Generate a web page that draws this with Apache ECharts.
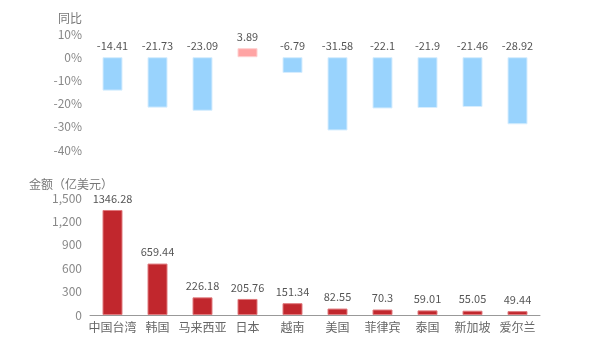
<!DOCTYPE html>
<html>
<head>
<meta charset="utf-8">
<script src="https://cdn.jsdelivr.net/npm/echarts@6/dist/echarts.min.js"></script>
<style>
  html, body { margin: 0; padding: 0; background: #fff; }
  #chart { width: 600px; height: 350px; }
</style>
</head>
<body>
<div id="chart"></div>
<script>
  // 国家/地区
  const regions = ['中国台湾', '韩国', '马来西亚', '日本', '越南', '美国', '菲律宾', '泰国', '新加坡', '爱尔兰'];
  // 同比 (%)
  const yoyValues = [-14.41, -21.73, -23.09, 3.89, -6.79, -31.58, -22.1, -21.9, -21.46, -28.92];
  // 金额 (亿美元)
  const amountValues = [1346.28, 659.44, 226.18, 205.76, 151.34, 82.55, 70.3, 59.01, 55.05, 49.44];

  const fontFamily = '"Microsoft YaHei", "Noto Sans CJK SC", sans-serif';
  const chart = echarts.init(document.getElementById('chart'));

  chart.setOption({
    animation: false,
    textStyle: { fontFamily: fontFamily },
    grid: [
      { left: 90, right: 60, top: 34, height: 116 },
      { left: 90, right: 60, top: 198, height: 117 }
    ],
    xAxis: [
      {
        gridIndex: 0,
        type: 'category',
        data: regions,
        show: false
      },
      {
        gridIndex: 1,
        type: 'category',
        data: regions,
        axisLine: { lineStyle: { color: '#999' } },
        axisTick: { alignWithLabel: true, lineStyle: { color: '#999' } },
        axisLabel: { color: '#666', fontSize: 12, interval: 0, margin: 6 }
      }
    ],
    yAxis: [
      {
        gridIndex: 0,
        type: 'value',
        min: -40,
        max: 10,
        interval: 10,
        name: '同比',
        nameGap: 10,
        nameTextStyle: { color: '#777', fontSize: 12, padding: [0, 40, 0, 0] },
        axisLine: { show: false },
        axisTick: { show: false },
        splitLine: { show: false },
        axisLabel: { color: '#888', fontSize: 12, margin: 8, formatter: '{value}%' }
      },
      {
        gridIndex: 1,
        type: 'value',
        min: 0,
        max: 1500,
        interval: 300,
        name: '金额（亿美元）',
        nameGap: 8,
        nameTextStyle: { color: '#777', fontSize: 12, padding: [0, 38, 0, 0] },
        axisLine: { show: false },
        axisTick: { show: false },
        splitLine: { show: false },
        axisLabel: { color: '#888', fontSize: 12, margin: 8 }
      }
    ],
    series: [
      {
        name: '同比',
        type: 'bar',
        xAxisIndex: 0,
        yAxisIndex: 0,
        barWidth: 20,
        data: yoyValues.map(function (v) {
          return {
            value: v,
            itemStyle: v >= 0
              ? { color: '#ffa4a4', borderColor: '#ffd0d0', borderWidth: 1 }
              : { color: '#99d3fd', borderColor: '#d6edfe', borderWidth: 1 }
          };
        }),
        label: { show: true, position: 'top', color: '#555', fontSize: 11, distance: 6 }
      },
      {
        name: '金额',
        type: 'bar',
        xAxisIndex: 1,
        yAxisIndex: 1,
        barWidth: 20,
        data: amountValues,
        itemStyle: { color: '#c1272d', borderColor: '#e07a7e', borderWidth: 1 },
        label: { show: true, position: 'top', color: '#555', fontSize: 11, distance: 6 }
      }
    ]
  });
</script>
</body>
</html>
